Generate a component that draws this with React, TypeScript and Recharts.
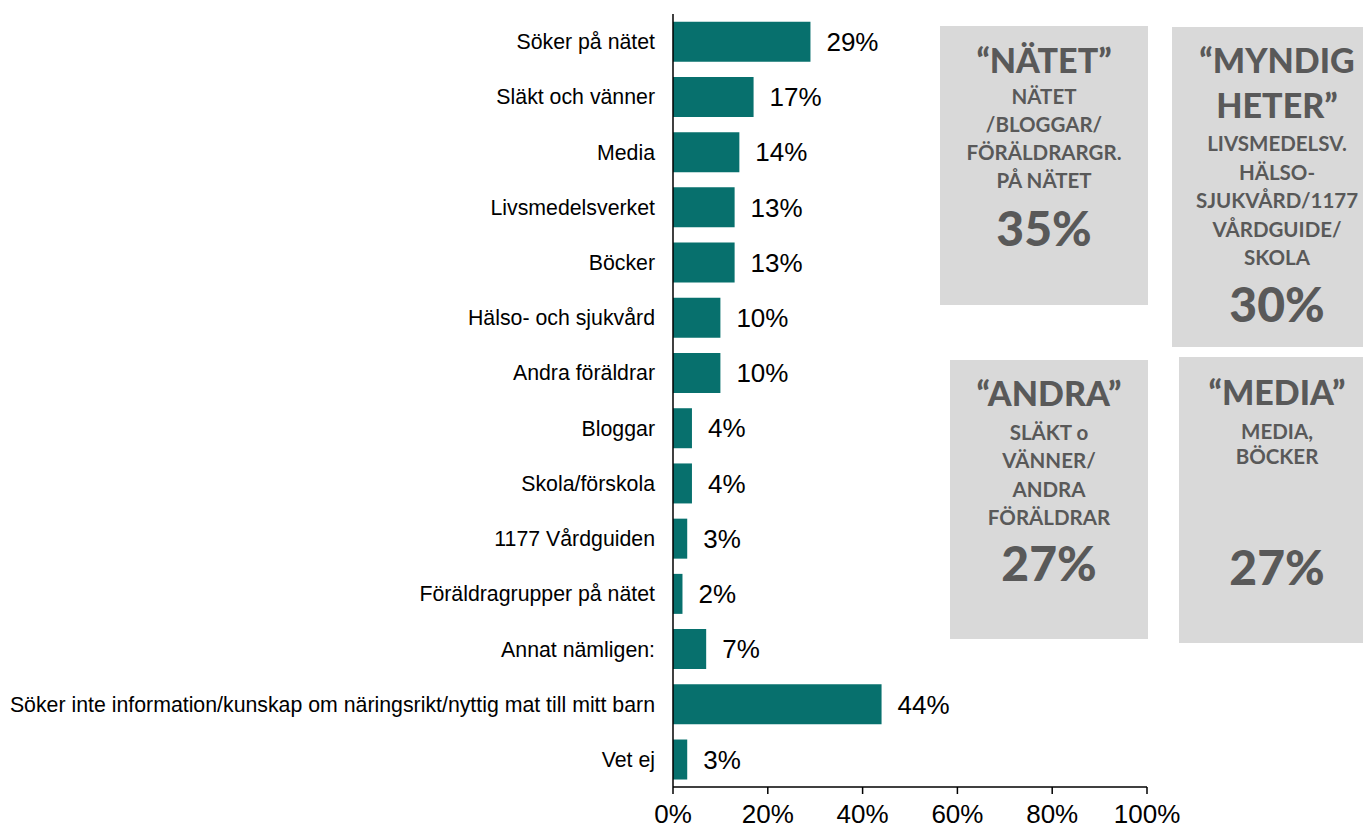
import { Bar, BarChart, LabelList, XAxis, YAxis } from "recharts";

const categories = [
  "Söker på nätet",
  "Släkt och vänner",
  "Media",
  "Livsmedelsverket",
  "Böcker",
  "Hälso- och sjukvård",
  "Andra föräldrar",
  "Bloggar",
  "Skola/förskola",
  "1177 Vårdguiden",
  "Föräldragrupper på nätet",
  "Annat nämligen:",
  "Söker inte information/kunskap om näringsrikt/nyttig mat till mitt barn",
  "Vet ej",
];
const shares = [29, 17, 14, 13, 13, 10, 10, 4, 4, 3, 2, 7, 44, 3];
const xTicks = [0, 20, 40, 60, 80, 100];

const data = categories.map((name, i) => ({ name, value: shares[i] }));

const arial = "'Liberation Sans', Arial, sans-serif";
const boxFont = "Lato, 'Open Sans', sans-serif";

type BoxProps = {
  left: number;
  top: number;
  width: number;
  height: number;
  title: string[];
  lines: string[];
  pct: string;
  padTop: number;
  linesGap: number;
  lineHeight: number;
  pctGap: number;
};

// grey summary boxes on the right
function GroupBox(p: BoxProps) {
  return (
    <div
      style={{
        position: "absolute",
        left: p.left,
        top: p.top,
        width: p.width,
        height: p.height,
        background: "#d9d9d9",
        color: "#595959",
        fontFamily: boxFont,
        fontWeight: 700,
        textAlign: "center",
        paddingTop: p.padTop,
        boxSizing: "border-box",
      }}
    >
      {p.title.map((t) => (
        <div key={t} style={{ fontSize: 34, lineHeight: "45px", fontWeight: 900 }}>{t}</div>
      ))}
      <div style={{ marginTop: p.linesGap }}>
        {p.lines.map((t) => (
          <div key={t} style={{ fontSize: 20.5, lineHeight: `${p.lineHeight}px` }}>{t}</div>
        ))}
      </div>
      <div style={{ fontSize: 48, lineHeight: "56px", marginTop: p.pctGap, fontWeight: 900 }}>{p.pct}</div>
    </div>
  );
}

export default function App() {
  return (
    <div style={{ position: "absolute", left: 0, top: 0, width: 1363, height: 829, overflow: "hidden", background: "#fff" }}>
      <BarChart
        width={1363}
        height={829}
        data={data}
        layout="vertical"
        margin={{ top: 14, right: 216, bottom: 0, left: 0 }}
        barCategoryGap="14%"
      >
        <XAxis
          type="number"
          domain={[0, 100]}
          ticks={xTicks}
          tickFormatter={(v) => `${v}%`}
          height={42}
          tickSize={7}
          tickMargin={11}
          stroke="#000"
          strokeWidth={1.5}
          tick={{ fill: "#000", fontSize: 26, fontFamily: arial }}
        />
        <YAxis
          type="category"
          dataKey="name"
          width={673}
          interval={0}
          tickLine={false}
          tickSize={0}
          tickMargin={18}
          stroke="#000"
          strokeWidth={1.5}
          tick={{ fill: "#000", fontSize: 21.3, fontFamily: arial }}
        />
        <Bar dataKey="value" fill="#07706d" isAnimationActive={false}>
          <LabelList
            dataKey="value"
            position="right"
            offset={16}
            formatter={(v: number) => `${v}%`}
            fill="#000"
            fontSize={26}
            fontFamily={arial}
          />
        </Bar>
      </BarChart>

      <GroupBox
        left={940} top={26} width={208} height={279}
        title={["“NÄTET”"]}
        lines={["NÄTET", "/BLOGGAR/", "FÖRÄLDRARGR.", "PÅ NÄTET"]}
        pct="35%"
        padTop={11} linesGap={0} lineHeight={28} pctGap={6}
      />
      <GroupBox
        left={1172} top={27} width={210} height={320}
        title={["“MYNDIG", "HETER”"]}
        lines={["LIVSMEDELSV.", "HÄLSO-", "SJUKVÅRD/1177", "VÅRDGUIDE/", "SKOLA"]}
        pct="30%"
        padTop={10} linesGap={2} lineHeight={28.5} pctGap={4}
      />
      <GroupBox
        left={950} top={360} width={198} height={279}
        title={["“ANDRA”"]}
        lines={["SLÄKT o", "VÄNNER/", "ANDRA", "FÖRÄLDRAR"]}
        pct="27%"
        padTop={10} linesGap={3} lineHeight={28.3} pctGap={4}
      />
      <GroupBox
        left={1179} top={357} width={196} height={286}
        title={["“MEDIA”"]}
        lines={["MEDIA,", "BÖCKER"]}
        pct="27%"
        padTop={12} linesGap={5} lineHeight={25} pctGap={70}
      />
    </div>
  );
}
